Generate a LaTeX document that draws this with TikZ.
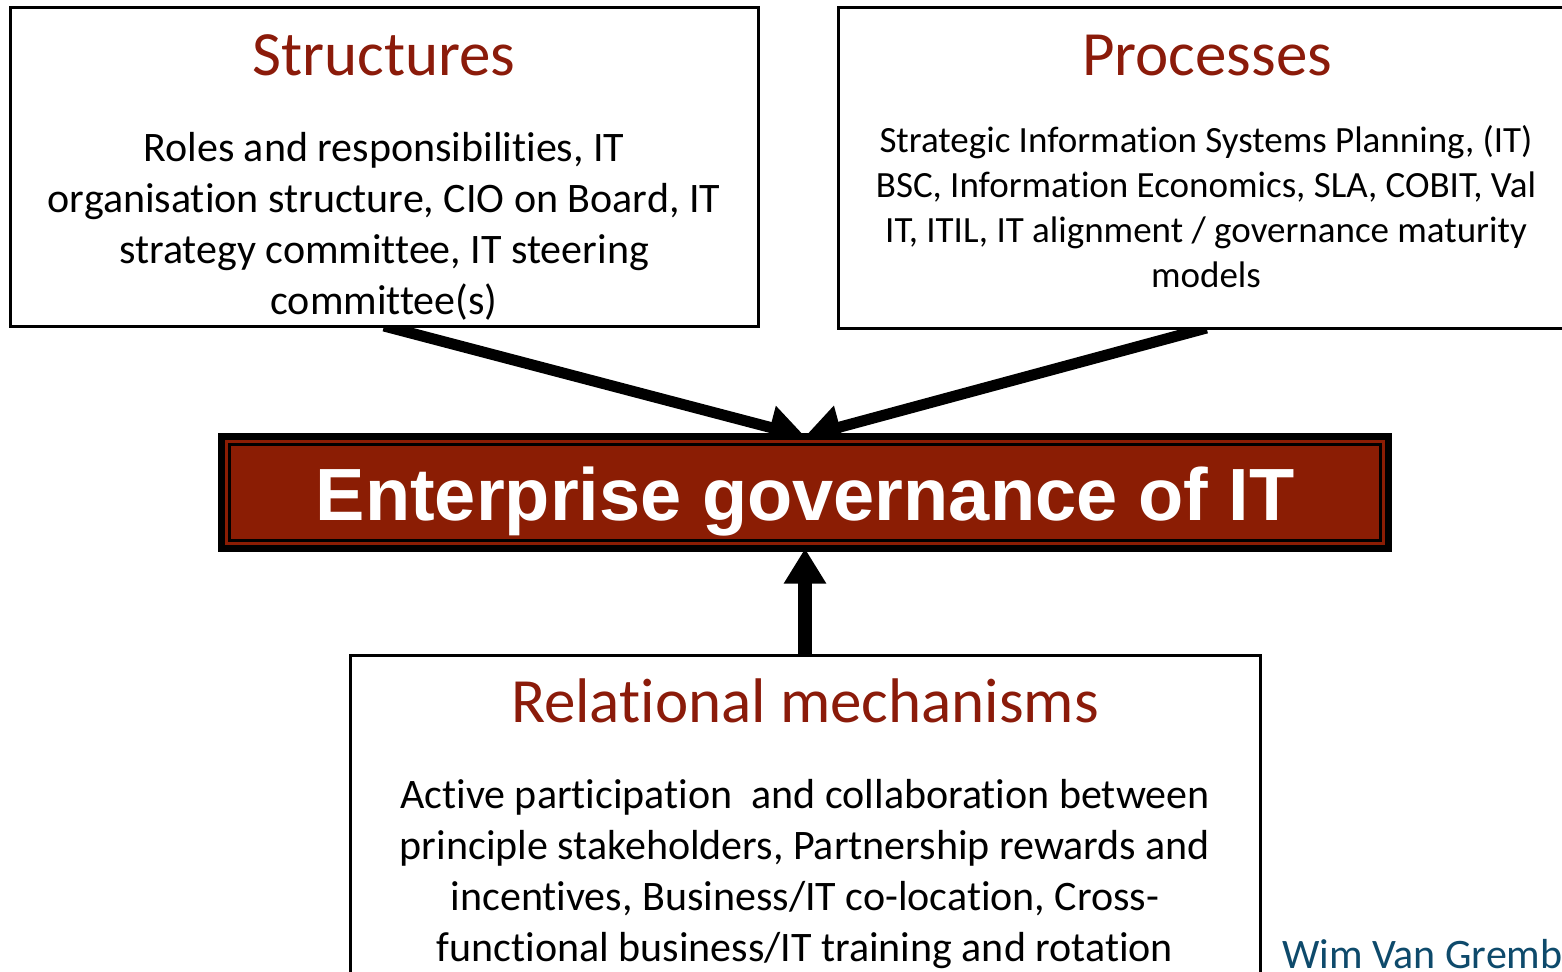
\documentclass[tikz,border=0pt]{standalone}
\usepackage{fontspec}
\setmainfont{Carlito}[Ligatures={NoCommon}]
\newfontfamily\headfont{Liberation Sans}
\usetikzlibrary{arrows.meta}
\definecolor{egred}{RGB}{139,29,4}
\definecolor{ttlred}{RGB}{139,27,10}
\definecolor{wimblue}{RGB}{14,74,107}
\pgfdeclarelayer{bg}
\pgfsetlayers{bg,main}
\begin{document}
\begin{tikzpicture}[x=1pt,y=-1pt,
  box/.style={draw=black, line width=3pt, fill=white, outer sep=0pt, inner sep=0pt},
  ttl/.style={text=ttlred, font=\fontsize{63}{76}\selectfont, anchor=base, inner sep=0pt},
  bodytext/.style={anchor=base, inner sep=0pt},
  diagarrow/.style={line width=11pt, -{Triangle[length=36pt,width=42pt]}},
  uparrow/.style={line width=14pt, -{Triangle[length=35pt,width=40pt]}}]
\useasboundingbox (0,0) rectangle (1562,971);
\clip (0,0) rectangle (1562,971);
% boxes
\node[box, minimum width=748pt, minimum height=318pt] (structures) at (384,167) {};
\node[box, minimum width=737pt, minimum height=320pt] (processes) at (1206.5,168) {};
\node[box, minimum width=910pt, minimum height=345pt] (relational) at (805,827.5) {};
\node[draw=black, line width=7pt, fill=egred, outer sep=0pt, inner sep=0pt,
      minimum width=1167pt, minimum height=112pt] (egov) at (805,492.5) {};
\draw[line width=2.5pt] ([xshift=8pt,yshift=-8pt]egov.north west) rectangle ([xshift=-8pt,yshift=8pt]egov.south east);
% texts
\node[text=white, font=\headfont\bfseries\fontsize{74}{89}\selectfont, anchor=base, inner sep=0pt] (egovtxt) at (805,520) {Enterprise governance of IT};
\node[ttl] (sttl) at (384,76) {Structures};
\node[ttl] (pttl) at (1207,76) {Processes};
\node[ttl] (rttl) at (805,722) {Relational mechanisms};
\node[bodytext] (sbody) at (384,161) {\parbox[t]{1000pt}{\centering\fontsize{42}{51}\selectfont
Roles and responsibilities, IT\\ organisation structure, CIO on Board, IT\\ strategy committee, IT steering\\ committee(s)}};
\node[bodytext] (pbody) at (1206,152) {\parbox[t]{1000pt}{\centering\fontsize{37}{45.3}\selectfont
Strategic Information Systems Planning, (IT)\\ BSC, Information Economics, SLA, COBIT, Val\\ IT, ITIL, IT alignment / governance maturity\\ models}};
\node[bodytext] (rbody) at (805,808) {\parbox[t]{1000pt}{\centering\fontsize{42}{51}\selectfont
Active participation~ and collaboration between\\ principle stakeholders, Partnership rewards and\\ incentives, Business/IT co-location, Cross-\\ functional business/IT training and rotation}};
\node[text=wimblue, font=\fontsize{42}{51}\selectfont, anchor=base west, inner sep=0pt] (wim) at (1282,968) {Wim Van Gremb};
% arrows
\begin{pgfonlayer}{bg}
\draw[diagarrow] (structures.south) -- (egov.north);
\draw[diagarrow] (processes.south) -- (egov.north);
\draw[uparrow] (relational.north) -- (egov.south);
\end{pgfonlayer}
\end{tikzpicture}
\end{document}
